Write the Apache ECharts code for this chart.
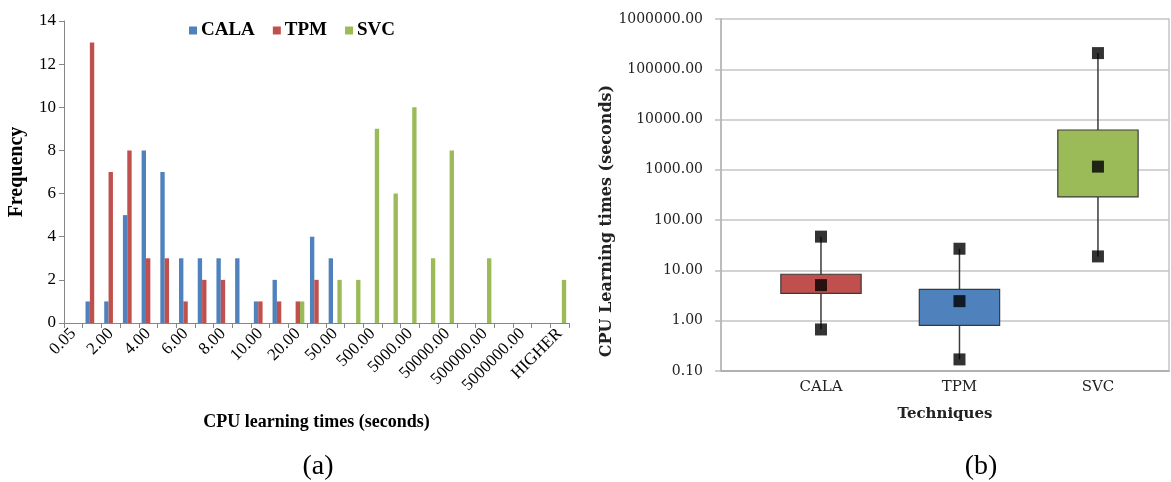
<!DOCTYPE html>
<html>
<head>
<meta charset="utf-8">
<script src="https://cdn.jsdelivr.net/npm/echarts@6/dist/echarts.min.js"></script>
<style>
html,body{margin:0;padding:0;background:#fff;}
#main{width:1171px;height:482px;}
</style>
</head>
<body>
<div id="main"></div>
<script>
// ---- Histogram (a) ----
const histBins = ['0.05','1.00','2.00','3.00','4.00','5.00','6.00','7.00','8.00','9.00','10.00','15.00','20.00','30.00','50.00','100.00','500.00','1000.00','5000.00','10000.00','50000.00','100000.00','500000.00','1000000.00','5000000.00','10000000.00','HIGHER'];
const calaFreq = [0,1,1,5,8,7,3,3,3,3,1,2,0,4,3,0,0,0,0,0,0,0,0,0,0,0,0];
const tpmFreq  = [0,13,7,8,3,3,1,2,2,0,1,1,1,2,0,0,0,0,0,0,0,0,0,0,0,0,0];
const svcFreq  = [0,0,0,0,0,0,0,0,0,0,0,0,1,0,2,2,9,6,10,3,8,0,3,0,0,0,2];
const freqTicks = {min:0, max:14, interval:2};

// ---- Box plot (b) ----
const techniques = ['CALA','TPM','SVC'];
const techPos    = [1,2,3];
const boxMin     = [0.67, 0.17, 19];
const boxQ1      = [3.5, 0.81, 290];
const boxMedian  = [5.1, 2.45, 1160];
const boxQ3      = [8.4, 4.2, 6200];
const boxMax     = [47, 27, 210000];
const boxColors  = ['#c0504d','#4f81bd','#9bbb59'];

const serifA = 'Liberation Serif';
const serifB = 'DejaVu Serif';

const boxData = techPos.map((x,i)=>[x, boxMin[i], boxQ1[i], boxMedian[i], boxQ3[i], boxMax[i], i]);
const markerData = [];
techPos.forEach((x,i)=>{
  markerData.push([x, boxMin[i]]);
  markerData.push([x, boxMedian[i]]);
  markerData.push([x, boxMax[i]]);
});

const chart = echarts.init(document.getElementById('main'));
chart.setOption({
  animation:false,
  backgroundColor:'#fff',
  title:[
    {text:'(a)', left:313, top:448, textAlign:'center',
     textStyle:{fontFamily:serifA, fontWeight:'normal', fontSize:28, color:'#000'}},
    {text:'(b)', left:976, top:448, textAlign:'center',
     textStyle:{fontFamily:serifA, fontWeight:'normal', fontSize:28, color:'#000'}}
  ],
  legend:{
    data:['CALA','TPM','SVC'],
    left:184, top:16,
    icon:'rect', itemWidth:8, itemHeight:8, itemGap:18,
    textStyle:{fontFamily:serifA, fontWeight:'bold', fontSize:19, color:'#000', padding:[0,0,0,-1]}
  },
  grid:[
    {left:64, top:21, width:505, height:302, containLabel:false},
    {left:721, top:19, right:2, bottom:111, containLabel:false}
  ],
  xAxis:[
    {
      type:'category', gridIndex:0, data:histBins, boundaryGap:true,
      axisLine:{lineStyle:{color:'#868686', width:1}},
      axisTick:{show:true, interval:0, length:5, lineStyle:{color:'#868686'}},
      axisLabel:{interval:1, rotate:45, margin:8, fontFamily:serifA, fontSize:17, color:'#000'},
      name:'CPU learning times (seconds)', nameLocation:'middle', nameGap:90,
      nameTextStyle:{fontFamily:serifA, fontWeight:'bold', fontSize:18, color:'#000'}
    },
    {
      type:'value', gridIndex:1, min:0.278, max:3.513,
      axisLine:{show:true, lineStyle:{color:'#a6a6a6', width:1.5}},
      axisTick:{show:false},
      splitLine:{show:false},
      axisLabel:{customValues:techPos, formatter:(v)=>techniques[Math.round(v)-1] || '', margin:9,
        fontFamily:serifB, fontSize:15, color:'#222'},
      name:'Techniques', nameLocation:'middle', nameGap:36,
      nameTextStyle:{fontFamily:serifB, fontWeight:'bold', fontSize:15, color:'#222'}
    }
  ],
  yAxis:[
    {
      type:'value', gridIndex:0, min:freqTicks.min, max:freqTicks.max, interval:freqTicks.interval,
      axisLine:{show:true, lineStyle:{color:'#868686', width:1}},
      axisTick:{show:true, length:5, lineStyle:{color:'#868686'}},
      splitLine:{show:false},
      axisLabel:{margin:8, fontFamily:serifA, fontSize:17, color:'#000'},
      name:'Frequency', nameLocation:'middle', nameGap:37, nameRotate:90,
      nameTextStyle:{fontFamily:serifA, fontWeight:'bold', fontSize:20, color:'#000'}
    },
    {
      type:'log', gridIndex:1, logBase:10, min:0.1, max:1000000,
      axisLine:{show:true, lineStyle:{color:'#a6a6a6', width:1.5}},
      axisTick:{show:true, length:6, lineStyle:{color:'#bfbfbf', width:1.5}},
      splitLine:{show:true, lineStyle:{color:'#c4c4c4', width:1.5}},
      axisLabel:{margin:18, formatter:(v)=>Number(v).toFixed(2), fontFamily:serifB, fontSize:14, color:'#222'},
      name:'CPU Learning times (seconds)', nameLocation:'middle', nameGap:100, nameRotate:90,
      nameTextStyle:{fontFamily:serifB, fontWeight:'bold', fontSize:16, color:'#222', padding:[0,52,0,0]}
    },
    {
      type:'log', gridIndex:1, logBase:10, min:0.1, max:1000000, position:'right',
      axisLine:{show:true, lineStyle:{color:'#c4c4c4', width:1.5}},
      axisTick:{show:false}, axisLabel:{show:false}, splitLine:{show:false}
    }
  ],
  series:[
    {name:'CALA', type:'bar', xAxisIndex:0, yAxisIndex:0, data:calaFreq, barGap:'0%', barCategoryGap:'30%',
     itemStyle:{color:'#4f81bd'}},
    {name:'TPM', type:'bar', xAxisIndex:0, yAxisIndex:0, data:tpmFreq, barGap:'0%', barCategoryGap:'30%',
     itemStyle:{color:'#c0504d'}},
    {name:'SVC', type:'bar', xAxisIndex:0, yAxisIndex:0, data:svcFreq, barGap:'0%', barCategoryGap:'30%',
     itemStyle:{color:'#9bbb59'}},
    {
      name:'boxes', type:'custom', xAxisIndex:1, yAxisIndex:1, data:boxData, z:3,
      renderItem:function(params, api){
        const x = api.value(0);
        const pMin = api.coord([x, api.value(1)]);
        const pQ1 = api.coord([x, api.value(2)]);
        const pQ3 = api.coord([x, api.value(4)]);
        const pMax = api.coord([x, api.value(5)]);
        const w = api.size([0.58, 1])[0];
        const idx = api.value(6);
        return {
          type:'group',
          children:[
            {type:'line', shape:{x1:pMin[0], y1:pMin[1], x2:pMax[0], y2:pMax[1]},
             style:{stroke:'#3a3a3a', lineWidth:1.5}},
            {type:'rect', shape:{x:pQ3[0]-w/2, y:pQ3[1], width:w, height:pQ1[1]-pQ3[1]},
             style:{fill:boxColors[idx], stroke:'#3a3a3a', lineWidth:1.2}}
          ]
        };
      }
    },
    {
      name:'markers', type:'scatter', xAxisIndex:1, yAxisIndex:1, data:markerData, z:5,
      symbol:'rect', symbolSize:12, itemStyle:{color:'#000'}
    }
  ]
});
</script>
</body>
</html>
